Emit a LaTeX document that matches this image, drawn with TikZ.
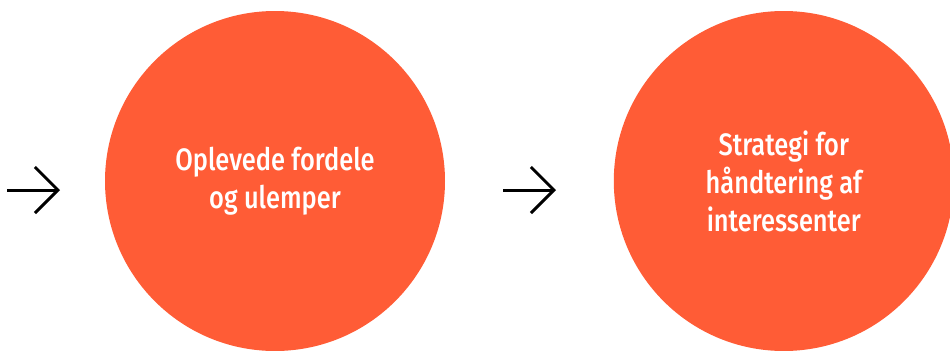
\documentclass[tikz,border=0pt]{standalone}
\usepackage{fontspec}
\setmainfont{Fira Sans}[FakeStretch=0.82,BoldFont=* Medium]
\usepackage{xcolor}
\usetikzlibrary{arrows.meta,positioning}
\definecolor{stageorange}{RGB}{255,92,54}

\begin{document}
\begin{tikzpicture}[x=0.5pt,y=0.5pt,font=\bfseries\fontsize{15.5}{19}\selectfont,
    >={Straight Barb[length=11.5pt,width=23pt]},
    stage/.style={circle,fill=stageorange,minimum size=170pt,inner sep=0pt,
        text=white,align=center}]
  \useasboundingbox (0,0) rectangle (950,350);

  \node[stage] (benefits) at (275,169) {Oplevede fordele\\og ulemper};
  \node[stage,right=84pt of benefits] (strategy) {Strategi for\\h\aa ndtering af\\interessenter};

  \coordinate (startA) at (7,160);
  \coordinate (endA) at (60,160);
  \coordinate (startB) at (503,160);
  \coordinate (endB) at (556,160);

  \draw[->,line width=1.5pt] (startA) -- (endA);
  \draw[->,line width=1.5pt] (startB) -- (endB);

\end{tikzpicture}
\end{document}
